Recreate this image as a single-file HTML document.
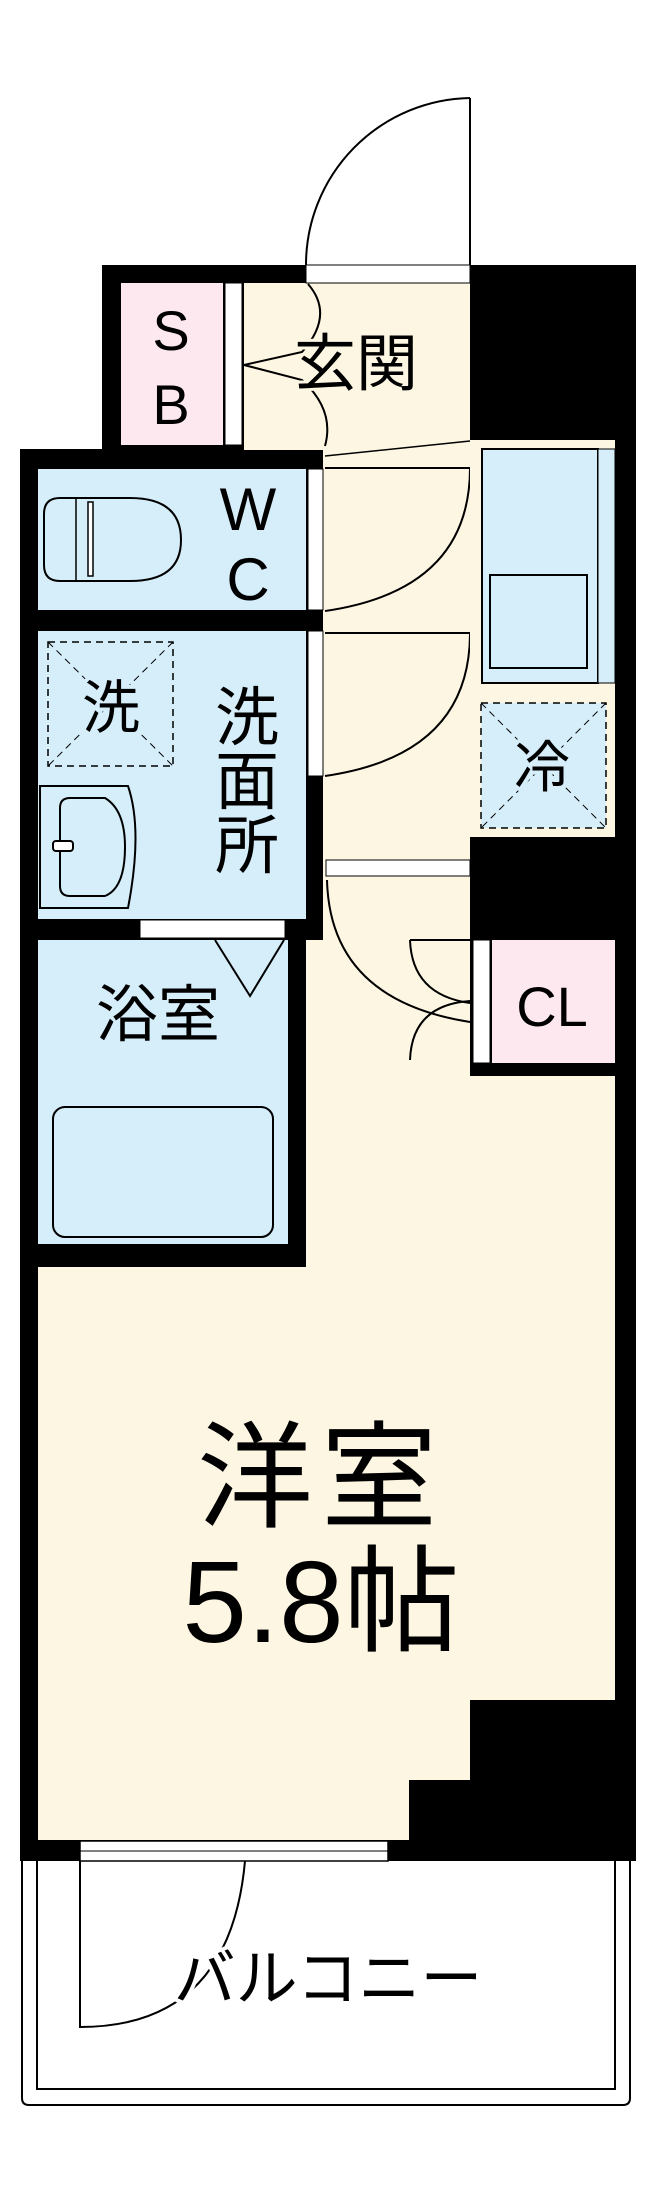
<!DOCTYPE html>
<html><head><meta charset="utf-8"><style>
html,body{margin:0;padding:0;background:#fff;}
svg{display:block;}
text{font-family:"Liberation Sans","Noto Sans CJK JP",sans-serif;fill:#000;}
.h{stroke-linejoin:round;paint-order:stroke;}
</style></head><body>
<svg width="654" height="2198" viewBox="0 0 654 2198" xmlns="http://www.w3.org/2000/svg">
<rect width="654" height="2198" fill="#fff"/>
<path d="M470 98 L470 265" stroke="#000" stroke-width="2" fill="none"/>
<path d="M470 98 A167 167 0 0 0 306 265" stroke="#000" stroke-width="2" fill="none"/>

<rect x="102" y="265" width="534" height="185" fill="#000"/>
<rect x="20" y="449" width="616" height="1412" fill="#000"/>

<rect x="121" y="283" width="102" height="162" fill="#fde8f0"/>
<rect x="225" y="283" width="17" height="162" fill="#fff" stroke="#000" stroke-width="1"/>
<rect x="244" y="283" width="226" height="167" fill="#fdf6e3"/>
<rect x="306" y="265" width="164" height="18" fill="#fff" stroke="#000" stroke-width="1"/>
<rect x="323" y="440" width="147" height="500" fill="#fdf6e3"/>
<line x1="325" y1="456" x2="470" y2="441" stroke="#000" stroke-width="1.5"/>
<!-- SB double door -->
<path d="M308 284 Q335 315 302 352 L244 365 L302 380 Q335 410 325 446" stroke="#000" stroke-width="2" fill="none"/>
<text x="171" y="350" font-size="56" text-anchor="middle">S</text>
<text x="171" y="424" font-size="56" text-anchor="middle">B</text>
<text x="356" y="385" font-size="62" text-anchor="middle" stroke="#fdf6e3" stroke-width="6" class="h">玄関</text>

<rect x="38" y="469" width="268" height="141" fill="#d5eefa"/>
<rect x="308" y="469" width="15" height="141" fill="#fff" stroke="#000" stroke-width="1"/>
<path d="M60 498 H130 Q181 498 181 540 Q181 581 130 581 H60 Q44 581 44 565 V514 Q44 498 60 498 Z" fill="#d5eefa" stroke="#000" stroke-width="2"/>
<line x1="76" y1="498" x2="76" y2="581" stroke="#000" stroke-width="1.5"/>
<rect x="88" y="502" width="5" height="74" fill="#fff" stroke="#000" stroke-width="1.5"/>
<text x="248" y="530" font-size="60" text-anchor="middle">W</text>
<text x="248" y="600" font-size="60" text-anchor="middle">C</text>

<rect x="38" y="631" width="268" height="288" fill="#d5eefa"/>
<rect x="308" y="631" width="15" height="145" fill="#fff" stroke="#000" stroke-width="1"/>
<rect x="48" y="642" width="125" height="124" fill="none" stroke="#000" stroke-width="1.5" stroke-dasharray="7,5"/>
<line x1="48" y1="642" x2="173" y2="766" stroke="#000" stroke-width="1" stroke-dasharray="7,5"/>
<line x1="173" y1="642" x2="48" y2="766" stroke="#000" stroke-width="1" stroke-dasharray="7,5"/>
<text x="111" y="728" font-size="58" text-anchor="middle" stroke="#d5eefa" stroke-width="8" class="h">洗</text>
<path d="M40 786 H128 Q143 830 128 908 H40 Z" fill="#d5eefa" stroke="#000" stroke-width="2"/>
<path d="M70 798 H105 Q125 810 125 847 Q125 888 105 896 H70 Q60 896 60 886 V808 Q60 798 70 798 Z" fill="none" stroke="#000" stroke-width="2"/>
<rect x="53" y="841" width="20" height="10" rx="3" fill="#fff" stroke="#000" stroke-width="2"/>
<text x="247" y="740" font-size="64" text-anchor="middle">洗</text>
<text x="247" y="804" font-size="64" text-anchor="middle">面</text>
<text x="247" y="868" font-size="64" text-anchor="middle">所</text>

<path d="M325 468 H470 Q470 590 325 611" stroke="#000" stroke-width="2" fill="none"/>
<path d="M325 633 H470 Q470 755 325 776" stroke="#000" stroke-width="2" fill="none"/>
<rect x="326" y="860" width="144" height="16" fill="#fff" stroke="#000" stroke-width="1"/>

<rect x="470" y="440" width="146" height="397" fill="#fdf6e3"/>
<rect x="482" y="449" width="116" height="234" fill="#d5eefa" stroke="#000" stroke-width="2"/>
<rect x="598" y="449" width="17" height="234" fill="#d5eefa" stroke="#000" stroke-width="1"/>
<rect x="490" y="575" width="97" height="93" fill="#d5eefa" stroke="#000" stroke-width="2"/>
<rect x="481" y="703" width="125" height="125" fill="#d5eefa" stroke="#000" stroke-width="1.5" stroke-dasharray="7,5"/>
<line x1="481" y1="703" x2="606" y2="828" stroke="#000" stroke-width="1" stroke-dasharray="7,5"/>
<line x1="606" y1="703" x2="481" y2="828" stroke="#000" stroke-width="1" stroke-dasharray="7,5"/>
<text x="542" y="787" font-size="56" text-anchor="middle" stroke="#d5eefa" stroke-width="8" class="h">冷</text>
<rect x="470" y="837" width="166" height="103" fill="#000"/>
<rect x="615" y="440" width="21" height="1421" fill="#000"/>

<rect x="306" y="940" width="309" height="100" fill="#fdf6e3"/>
<rect x="38" y="1267" width="577" height="573" fill="#fdf6e3"/>
<rect x="306" y="1000" width="164" height="300" fill="#fdf6e3"/>
<rect x="470" y="1063" width="145" height="300" fill="#fdf6e3"/>
<rect x="470" y="940" width="146" height="126" fill="#000"/>
<rect x="473" y="940" width="17" height="123" fill="#fff" stroke="#000" stroke-width="1"/>
<rect x="492" y="940" width="123" height="123" fill="#fde8f0"/>
<text x="552" y="1026" font-size="56" text-anchor="middle">CL</text>
<rect x="470" y="1066" width="166" height="10" fill="#000"/>
<rect x="470" y="1076" width="145" height="10" fill="#fdf6e3"/>
<path d="M327 880 Q330 1000 470 1022" stroke="#000" stroke-width="2" fill="none"/>
<path d="M410 940 H470 M410 940 Q412 995 470 1003" stroke="#000" stroke-width="2" fill="none"/>
<path d="M410 1060 Q412 1005 470 1001" stroke="#000" stroke-width="2" fill="none"/>

<rect x="38" y="940" width="250" height="304" fill="#d5eefa"/>
<rect x="20" y="919" width="286" height="21" fill="#000"/>
<rect x="140" y="920" width="145" height="18" fill="#fff" stroke="#000" stroke-width="1"/>
<rect x="288" y="919" width="18" height="348" fill="#000"/>
<rect x="20" y="1244" width="286" height="23" fill="#000"/>
<path d="M215 940 L250 996 L284 940" stroke="#000" stroke-width="2" fill="none"/>
<text x="158" y="1036" font-size="62" text-anchor="middle">浴室</text>
<rect x="53" y="1107" width="220" height="130" rx="12" fill="#d5eefa" stroke="#000" stroke-width="2"/>
<text x="321" y="1518" font-size="116" text-anchor="middle" letter-spacing="8">洋室</text>
<text x="321" y="1642" font-size="116" text-anchor="middle">5.8帖</text>
<rect x="470" y="1700" width="166" height="161" fill="#000"/>
<rect x="409" y="1780" width="227" height="81" fill="#000"/>
<rect x="20" y="1840" width="616" height="21" fill="#000"/>
<rect x="80" y="1841" width="308" height="20" fill="#fff" stroke="#000" stroke-width="1.5"/>
<line x1="80" y1="1851" x2="388" y2="1851" stroke="#000" stroke-width="1"/>

<path d="M22 1861 V2098 Q22 2105 29 2105 H623 Q630 2105 630 2098 V1861" fill="none" stroke="#000" stroke-width="2"/>
<path d="M37 1861 V2089 H615 V1861" fill="none" stroke="#000" stroke-width="2"/>
<path d="M80 1861 V2027 Q230 2027 245 1861" fill="none" stroke="#000" stroke-width="2"/>
<text x="328" y="2000" font-size="62" text-anchor="middle" stroke="#fff" stroke-width="8" class="h">バルコニー</text>
</svg>
</body></html>
